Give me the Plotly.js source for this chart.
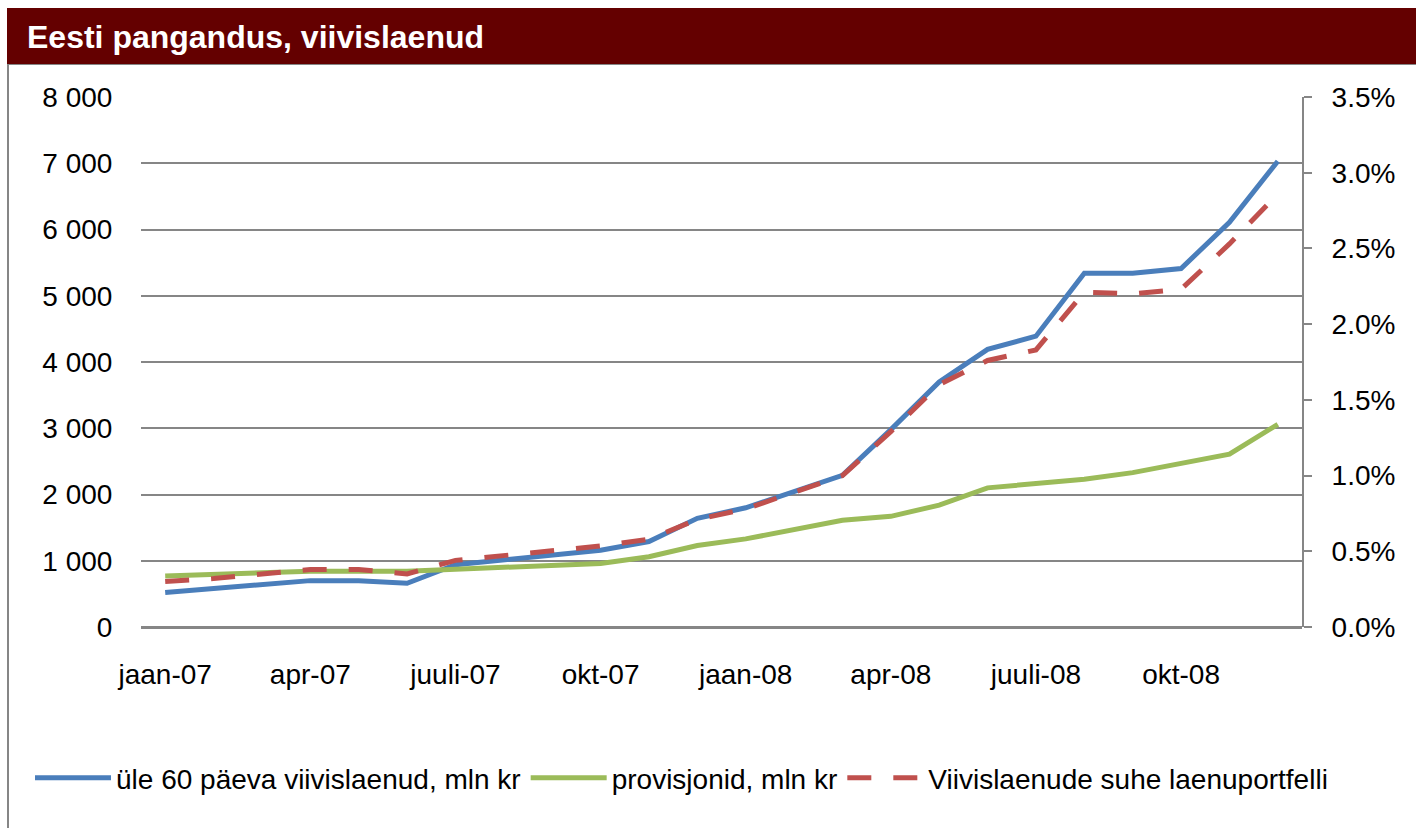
<!DOCTYPE html>
<html>
<head>
<meta charset="utf-8">
<script src="https://cdn.plot.ly/plotly-3.0.1.min.js"></script>
<style>
html,body{margin:0;padding:0;background:#fff;}
#chart{width:1416px;height:828px;}
</style>
</head>
<body>
<div id="chart"></div>
<script>
const months = ["jaan-07","veebr-07","märts-07","apr-07","mai-07","juuni-07","juuli-07","aug-07","sept-07","okt-07","nov-07","dets-07",
                "jaan-08","veebr-08","märts-08","apr-08","mai-08","juuni-08","juuli-08","aug-08","sept-08","okt-08","nov-08","dets-08"];
const tickMonths = ["jaan-07","apr-07","juuli-07","okt-07","jaan-08","apr-08","juuli-08","okt-08"];
const overdue = [520,580,640,700,700,660,940,1010,1090,1160,1290,1640,1800,2040,2290,2980,3700,4190,4390,5340,5340,5410,6110,7030];
const provisions = [770,800,820,840,840,840,870,900,930,960,1060,1230,1330,1470,1610,1670,1840,2100,2160,2230,2330,2470,2610,3060];
const ratioPct = [0.30,0.32,0.35,0.38,0.38,0.35,0.44,0.47,0.50,0.535,0.58,0.71,0.78,0.89,1.00,1.29,1.60,1.76,1.83,2.21,2.20,2.23,2.53,2.86];
const seriesNames = ["üle 60 päeva viivislaenud, mln kr","provisjonid, mln kr","Viivislaenude suhe laenuportfelli"];

const gridCol = "#868686";
const FONT = "Liberation Sans, Arial, sans-serif";

const traces = [
  {x: months, y: overdue, name: seriesNames[0], type: "scatter", mode: "lines",
   line: {color: "#4A7EBB", width: 5}, yaxis: "y"},
  {x: months, y: provisions, name: seriesNames[1], type: "scatter", mode: "lines",
   line: {color: "#9BBB59", width: 5}, yaxis: "y"},
  {x: months, y: ratioPct, name: seriesNames[2], type: "scatter", mode: "lines",
   line: {color: "#C0504D", width: 5, dash: "24px,22px"}, yaxis: "y2"}
];

const L = 141, R = 1302, T = 97, B = 627, W = 1416, H = 828;
const px = v => (v - L) / (R - L);
const py = v => (B - v) / (B - T);

const layout = {
  width: W, height: H,
  margin: {l: L, r: W - R, t: T, b: H - B, pad: 0},
  paper_bgcolor: "#fff", plot_bgcolor: "#fff",
  separators: ". ",
  font: {family: FONT, size: 28, color: "#000"},
  showlegend: true,
  title: {text: "Eesti pangandus, viivislaenud", font: {family: FONT, size: 32, color: "#fff", weight: "bold"},
          x: 27 / W, xanchor: "left", xref: "container", y: 1 - 37 / H, yanchor: "middle", yref: "container"},
  xaxis: {type: "category", categoryorder: "array", categoryarray: months, range: [-0.5, 23.5],
          tickmode: "array", tickvals: tickMonths, ticktext: tickMonths,
          showgrid: false, showline: false, zeroline: false,
          ticks: "outside", ticklen: 22, tickcolor: "rgba(0,0,0,0)",
          tickfont: {family: FONT, size: 28, color: "#000"}, fixedrange: true},
  yaxis: {range: [0, 8000], dtick: 1000, tickformat: ",d", showgrid: true, gridcolor: gridCol, gridwidth: 2,
          zeroline: true, zerolinecolor: gridCol, zerolinewidth: 3, showline: false,
          ticks: "outside", ticklen: 22, tickcolor: "rgba(0,0,0,0)",
          tickfont: {family: FONT, size: 28, color: "#000"}, fixedrange: true},
  yaxis2: {overlaying: "y", side: "right", range: [0, 3.5], dtick: 0.5, tickformat: ".1f", ticksuffix: "%",
           showgrid: false, zeroline: false, showline: true, linecolor: gridCol, linewidth: 2,
           ticks: "outside", ticklen: 8, tickwidth: 2, tickcolor: gridCol, ticklabelstandoff: 14,
           tickfont: {family: FONT, size: 28, color: "#000"}, fixedrange: true},
  legend: {orientation: "h", x: px(30), xanchor: "left", y: py(778), yanchor: "middle",
           font: {family: FONT, size: 28, color: "#000"}, bgcolor: "rgba(0,0,0,0)", itemwidth: 76,
           traceorder: "normal"},
  shapes: [
    {type: "rect", xref: "paper", yref: "paper", x0: px(8), x1: px(1430), y0: py(64), y1: py(840),
     line: {color: gridCol, width: 2}, fillcolor: "rgba(0,0,0,0)", layer: "below"},
    {type: "rect", xref: "paper", yref: "paper", x0: px(7), x1: px(1430), y0: py(64), y1: py(8),
     line: {width: 0}, fillcolor: "#640000", layer: "above"}
  ]
};

Plotly.newPlot("chart", traces, layout, {displayModeBar: false, staticPlot: true});
</script>
</body>
</html>
